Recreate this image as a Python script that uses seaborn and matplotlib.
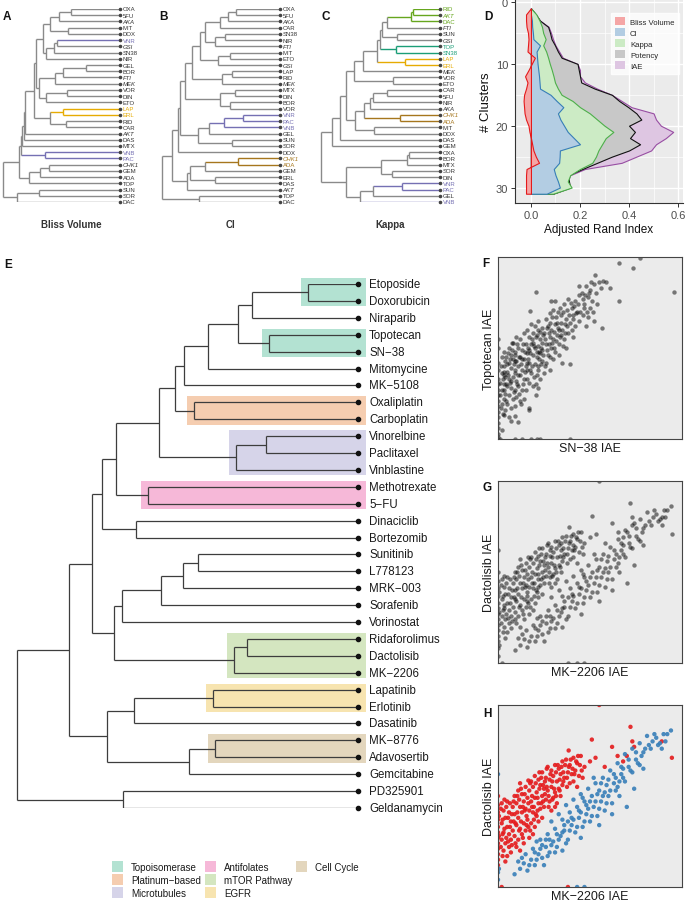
import numpy as np
import pandas as pd
import matplotlib
matplotlib.use("Agg")
import matplotlib.pyplot as plt
import seaborn as sns
from matplotlib.collections import LineCollection
from matplotlib.patches import Rectangle, Patch

# ---------------------------------------------------------------- data
# Dendrograms: (left, right, merge height)
A_n4 = ((("OXA", "5FU", 49), "AKA", 60.7), ("MIT", "DOX", 52.3), 70)
A_n7 = ((("VNR", "GSI", 62.7), "SN38", 66), "NIR", 74.3)
A_n11 = ((("GEL", "BOR", 34), "FTI", 57.3), "MEK", 65)
A_n13 = (("VOR", "DIN", 53.3), "ETO", 74.3)
A_n15 = ((A_n4, A_n7, 76.7), (A_n11, A_n13, 80.7), 84)
A_n18 = (("LAP", "ERL", 56.7), ("RID", "CAR", 54.3), 70)
A_n22 = ((((A_n15, A_n18, 85.7), "AKT", 95), "DAS", 96), "MTX", 98)
A_n27 = ((("CHK1", "GEM", 70.7), "ADA", 80), "TOP", 90.7)
A_n28 = ((A_n22, ("VNB", "PAC", 75), 99.5), A_n27, 100.7)
A_tree = (A_n28, (("SUN", "SOR", 81), "DAC", 102.7), 117.3)

B_b6 = (((("OXA", "5FU", 44), "AKA", 52), "CAR", 60), (("SN38", "NIR", 55), "FTI", 65), 75)
B_b9 = (B_b6, (("MIT", "ETO", 50), "GSI", 62), 80)
B_b12 = (B_b9, (("LAP", "RID", 48), "MEK", 58), 88)
B_b16 = (B_b12, (("MTX", "DIN", 45), ("BOR", "VOR", 50), 60), 95)
B_b21 = (((("VNR", "PAC", 37), "VNB", 56), "GEL", 71), ("SUN", "SOR", 48), 82)
B_b23 = ((B_b16, B_b21, 100), "DOX", 102)
B_b28 = (((("CHK1", "ADA", 42), "GEM", 75), ("ERL", "DAS", 65), 90), "AKT", 93)
B_tree = ((B_b23, B_b28, 108), ("TOP", "DAC", 81), 118)

C_c7 = ((((("RID", "AKT", 27), "DAC", 29), "FTI", 53), ("SUN", "GSI", 43), 58), ("TOP", "SN38", 44), 60)
C_c12 = ((((C_c7, ("LAP", "ERL", 35), 63), "MEK", 77)), ("VOR", "ETO", 47), 86)
C_c19 = ((((("CAR", "5FU", 53), "NIR", 67), "AKA", 70), ("CHK1", "ADA", 40), 76), ("MIT", "DOX", 66), 85)
C_c22 = ((((C_c12, C_c19, 94), "DAS", 100)), "GEM", 108)
C_c30 = (((("OXA", "BOR", 31), "MTX", 33), ("SOR", "DIN", 48), 59), ((("VNR", "PAC", 38), "GEL", 67), "VNB", 80), 94)
C_tree = (C_c22, C_c30, 119)

italic_codes = ["AKA", "GSI", "FTI", "MEK", "AKT", "CHK1"]
A_groups = {"VNR": "#7570B3", "VNB": "#7570B3", "PAC": "#7570B3", "LAP": "#E6AB02", "ERL": "#E6AB02"}
B_groups = {"VNR": "#7570B3", "VNB": "#7570B3", "PAC": "#7570B3", "CHK1": "#A6761D", "ADA": "#A6761D"}
C_groups = {"RID": "#66A61E", "AKT": "#66A61E", "DAC": "#66A61E", "TOP": "#1B9E77", "SN38": "#1B9E77",
            "LAP": "#E6AB02", "ERL": "#E6AB02", "CHK1": "#A6761D", "ADA": "#A6761D",
            "VNR": "#7570B3", "PAC": "#7570B3", "VNB": "#7570B3"}
tree_titles = ["Bliss Volume", "CI", "Kappa"]

# Panel E dendrogram
E_topo = ((("Etoposide", "Doxorubicin", 50), "Niraparib", 106), ("Topotecan", "SN-38", 89), 120)
E_t3 = (((E_topo, "Mitomycine", 150), "MK-5108", 174), ("Oxaliplatin", "Carboplatin", 164), 183)
E_mt = (("Vinorelbine", "Paclitaxel", 92), "Vinblastine", 122)
E_t6 = ((((E_t3, E_mt, 199), ("Methotrexate", "5-FU", 210), 242)), ("Dinaciclib", "Bortezomib", 222), 256)
E_kin = (((("Sunitinib", "L778123", 160), "MRK-003", 175), "Sorafenib", 197), "Vorinostat", 236)
E_mtor = (("Ridaforolimus", "Dactolisib", 111), "MK-2206", 124)
E_t9 = ((("Lapatinib", "Erlotinib", 145), "Dasatinib", 224), (("MK-8776", "Adavosertib", 143), "Gemcitabine", 169), 251)
E_tree = ((((E_t6, (E_kin, E_mtor, 244), 266)), E_t9, 289), ("PD325901", "Geldanamycin", 235), 341)

E_box_names = ["Topoisomerase", "Topoisomerase", "Platinum−based", "Microtubules", "Antifolates",
               "mTOR Pathway", "EGFR", "Cell Cycle"]
E_box_members = [["Etoposide", "Doxorubicin"], ["Topotecan", "SN-38"], ["Oxaliplatin", "Carboplatin"],
                 ["Vinorelbine", "Paclitaxel", "Vinblastine"], ["Methotrexate", "5-FU"],
                 ["Ridaforolimus", "Dactolisib", "MK-2206"], ["Lapatinib", "Erlotinib"],
                 ["MK-8776", "Adavosertib"]]
class_names = ["Topoisomerase", "Platinum−based", "Microtubules", "Antifolates", "mTOR Pathway", "EGFR", "Cell Cycle"]
class_colors = ["#b3e2d2", "#f5cdb0", "#d6d4e9", "#f6b8d8", "#d4e6c0", "#f7e4b0", "#e3d6bd"]

# Panel D: adjusted Rand index vs number of clusters
n_clusters = list(range(1, 32))
ari_bliss = [0.0, -0.02, -0.02, -0.018, -0.012, -0.01, -0.012, -0.014, 0.016, 0.003, -0.01, -0.024, -0.014,
             -0.02, -0.028, -0.03, -0.028, -0.026, -0.02, -0.01, -0.006, 0.0, 0.005, 0.01, 0.02, 0.033,
             -0.018, -0.02, -0.02, -0.02, -0.02]
ari_ci = [0.0, 0.0, 0.004, 0.005, 0.008, 0.01, 0.037, 0.023, 0.025, 0.027, 0.03, 0.033, 0.035, 0.037, 0.08,
          0.105, 0.132, 0.11, 0.12, 0.135, 0.15, 0.175, 0.2, 0.118, 0.117, 0.115, 0.093, 0.1, 0.11, 0.118, 0.064]
ari_kappa = [0.0, 0.022, 0.035, 0.045, 0.05, 0.06, 0.05, 0.062, 0.07, 0.077, 0.085, 0.092, 0.098, 0.11, 0.125,
             0.17, 0.2, 0.24, 0.27, 0.3, 0.336, 0.305, 0.29, 0.275, 0.265, 0.25, 0.2, 0.16, 0.15, 0.166, 0.09]
ari_potency = [0.0, 0.02, 0.037, 0.07, 0.078, 0.084, 0.098, 0.11, 0.125, 0.19, 0.195, 0.2, 0.205, 0.26, 0.33,
               0.36, 0.397, 0.43, 0.45, 0.4, 0.424, 0.404, 0.445, 0.4, 0.33, 0.27, 0.21, 0.152, 0.155, 0.16, 0.09]
ari_iae = [0.0, 0.02, 0.037, 0.072, 0.082, 0.09, 0.1, 0.115, 0.13, 0.19, 0.2, 0.2, 0.22, 0.27, 0.33, 0.37,
           0.41, 0.5, 0.51, 0.53, 0.58, 0.55, 0.51, 0.49, 0.43, 0.37, 0.22, 0.16, 0.15, 0.16, 0.09]
measure_names = ["Bliss Volume", "CI", "Kappa", "Potency", "IAE"]
measure_fill = ["#f5a6a6", "#b3cde3", "#ccebc5", "#c8c8c8", "#dec6e2"]
measure_edge = ["#E41A1C", "#377EB8", "#4DAF4A", "#111111", "#984EA3"]

# Panel F: SN-38 IAE (x) vs Topotecan IAE (y), scaled 0..1
F_points = [
    (0, .55), (0, .50), (0, .42), (0, .38), (0, .33), (0, .30), (0, .27), (0, .24), (0, .21), (0, .18), (0, .15),
    (0, .12), (0, .09), (0, .06), (0, .03), (0, .01),
    (.01, 0), (.09, 0), (.13, 0), (.18, 0), (.21, 0), (.23, 0), (.39, 0),
    (.77, .995), (.736, .94), (.655, .967), (.527, .90), (.958, .807), (.609, .83), (.655, .76), (.564, .61),
    (.209, .81), (.29, .756), (.31, .756), (.173, .706), (.39, .41), (.35, .42), (.209, .244), (.167, .17),
    (.17, .16), (.11, .095), (.06, .12), (.09, .125), (.07, .10), (.02, .05),
    (.50, .82), (.52, .85), (.48, .84), (.55, .86), (.57, .87), (.585, .865), (.53, .80), (.49, .78), (.46, .77),
    (.51, .76), (.47, .72), (.50, .72), (.515, .70), (.54, .74), (.49, .67), (.46, .68), (.52, .65), (.48, .62),
    (.36, .74), (.38, .77), (.40, .72), (.42, .76), (.44, .79), (.41, .68), (.43, .70), (.37, .66), (.39, .64),
    (.42, .62), (.35, .60), (.38, .58), (.44, .65), (.40, .60), (.36, .55), (.33, .52), (.41, .56), (.37, .50),
    (.34, .68), (.32, .64),
    (.26, .66), (.28, .69), (.30, .71), (.27, .62), (.29, .60), (.31, .63), (.33, .60), (.25, .58), (.28, .56),
    (.30, .55), (.32, .57), (.26, .52), (.29, .50), (.31, .48), (.27, .46), (.24, .49), (.30, .44), (.26, .42),
    (.33, .46), (.28, .38), (.25, .36),
    (.16, .60), (.18, .63), (.20, .62), (.22, .65), (.24, .61), (.17, .56), (.19, .58), (.21, .57), (.23, .55),
    (.15, .52), (.18, .52), (.20, .50), (.22, .51), (.24, .53), (.16, .47), (.19, .46), (.21, .45), (.23, .47),
    (.17, .42), (.20, .41), (.22, .40), (.24, .43), (.16, .38), (.18, .36), (.21, .35), (.23, .33), (.17, .31),
    (.19, .29), (.15, .27), (.22, .28),
    (.06, .50), (.08, .53), (.10, .56), (.12, .55), (.14, .58), (.07, .46), (.09, .48), (.11, .50), (.13, .49),
    (.06, .42), (.08, .44), (.10, .43), (.12, .45), (.14, .44), (.05, .37), (.07, .39), (.09, .38), (.11, .40),
    (.13, .38), (.06, .33), (.08, .34), (.10, .32), (.12, .35), (.14, .33), (.05, .29), (.07, .28), (.09, .27),
    (.11, .29), (.13, .27), (.06, .24), (.08, .22), (.10, .23), (.12, .21), (.05, .19), (.07, .17), (.14, .22),
    (.09, .18),
    (.02, .45), (.03, .40), (.02, .36), (.04, .34), (.03, .30), (.02, .27), (.04, .25), (.03, .22), (.02, .19),
    (.04, .16), (.03, .13), (.01, .31), (.01, .24), (.04, .43), (.03, .48),
    (.015, .40), (.025, .33), (.035, .27), (.045, .21), (.015, .17), (.025, .14), (.045, .30), (.055, .35),
    (.065, .44), (.075, .49), (.085, .41), (.095, .36), (.105, .30), (.115, .25), (.125, .19), (.135, .30),
    (.145, .37), (.155, .42), (.165, .50), (.175, .47), (.185, .40), (.195, .34), (.205, .30), (.215, .38),
    (.225, .44), (.235, .50), (.245, .57), (.255, .55), (.265, .49), (.275, .58), (.285, .64), (.295, .53),
    (.305, .59), (.315, .67), (.325, .61), (.335, .56), (.345, .64), (.355, .70), (.365, .63), (.375, .71),
    (.385, .68), (.395, .75), (.405, .66), (.415, .73), (.425, .69), (.435, .74), (.445, .70), (.455, .80),
    (.465, .74), (.475, .79), (.485, .70), (.495, .80), (.505, .86), (.44, .84), (.56, .83), (.075, .53),
    (.055, .47), (.035, .37), (.045, .45), (.065, .31), (.085, .26), (.095, .46), (.105, .52), (.115, .45),
    (.125, .41), (.135, .52), (.145, .48), (.155, .33), (.165, .44), (.175, .38), (.185, .55), (.195, .51),
    (.205, .56), (.215, .60), (.225, .48), (.235, .41), (.245, .46), (.255, .40), (.265, .61), (.275, .52),
    (.285, .45), (.295, .67), (.305, .50), (.315, .54), (.325, .70), (.335, .72), (.345, .57), (.355, .51),
    (.365, .58), (.375, .62), (.03, .35), (.05, .41), (.07, .32), (.09, .43), (.11, .35), (.13, .44), (.15, .40),
    (.17, .49), (.19, .53), (.21, .48), (.23, .59),
]

# Panels G/H: MK-2206 IAE (x) vs Dactolisib IAE (y), scaled 0..1, split into two response groups
G_upper = [
    (0, .50), (0, .45), (0, .41), (0, .37), (0, .33), (0, .30), (0, .27), (0, .24), (0, .21), (0, .18), (0, .15),
    (0, .12), (.005, .39), (.005, .28), (.02, 0), (.38, 0), (.55, 1.0),
    (.02, .46), (.03, .42), (.04, .38), (.02, .35), (.05, .33), (.03, .30), (.06, .29), (.02, .26), (.04, .24),
    (.06, .22), (.03, .20), (.05, .17), (.07, .19), (.04, .14), (.07, .36), (.06, .41), (.08, .44), (.05, .47),
    (.07, .26), (.08, .31),
    (.09, .50), (.11, .53), (.13, .51), (.15, .55), (.10, .46), (.12, .44), (.14, .47), (.16, .49), (.09, .40),
    (.11, .38), (.13, .41), (.15, .43), (.10, .34), (.12, .32), (.14, .35), (.16, .37), (.09, .28), (.11, .26),
    (.13, .29), (.15, .31), (.10, .22), (.12, .20), (.14, .24), (.165, .585), (.12, .57),
    (.18, .58), (.20, .61), (.22, .59), (.24, .63), (.26, .60), (.17, .53), (.19, .55), (.21, .52), (.23, .56),
    (.25, .54), (.18, .47), (.20, .49), (.22, .46), (.24, .50), (.26, .48), (.17, .42), (.19, .41), (.21, .39),
    (.23, .43), (.25, .44), (.18, .35), (.20, .33), (.22, .36), (.24, .38), (.19, .29), (.17, .27),
    (.27, .66), (.29, .64), (.31, .67), (.33, .65), (.35, .69), (.28, .59), (.30, .61), (.32, .58), (.34, .62),
    (.36, .60), (.27, .53), (.29, .55), (.31, .52), (.33, .54), (.35, .56), (.28, .47), (.30, .49), (.32, .46),
    (.34, .50), (.29, .42), (.31, .44),
    (.37, .70), (.39, .67), (.41, .71), (.43, .68), (.45, .72), (.38, .63), (.40, .62), (.42, .64), (.44, .61),
    (.39, .57), (.41, .58), (.43, .55), (.47, .66), (.384, .75), (.46, .60),
    (.51, .81), (.50, .69), (.53, .71), (.62, .77), (.65, .72), (.68, .69), (.72, .88), (.73, .80), (.74, .77),
    (.89, .80), (.945, .71), (.58, .66), (.70, .72),
    (.015, .43), (.025, .37), (.035, .32), (.045, .27), (.015, .22), (.025, .17), (.045, .44), (.055, .38),
    (.065, .33), (.075, .40), (.085, .47), (.095, .35), (.105, .41), (.115, .48), (.125, .36), (.135, .44),
    (.145, .51), (.155, .39), (.165, .46), (.175, .57), (.185, .50), (.195, .44), (.205, .57), (.215, .49),
    (.225, .54), (.235, .60), (.245, .47), (.255, .58), (.265, .65), (.275, .50), (.285, .62), (.295, .58),
    (.305, .54), (.315, .63), (.325, .67), (.335, .59), (.345, .66), (.355, .63), (.365, .67), (.375, .60),
    (.385, .66), (.395, .70), (.405, .65), (.415, .62), (.425, .69), (.435, .72), (.445, .67), (.455, .64),
    (.035, .48), (.055, .25), (.075, .23), (.095, .24), (.115, .31), (.135, .27), (.155, .34), (.175, .31),
    (.195, .37), (.215, .42), (.235, .46), (.255, .51), (.275, .44), (.295, .48), (.315, .50), (.335, .53),
    (.355, .58), (.375, .55), (.025, .29), (.065, .46), (.085, .36), (.105, .50), (.125, .54), (.145, .42),
    (.165, .33), (.185, .44), (.205, .40), (.225, .63), (.245, .56), (.265, .55),
]
G_lower = [
    (0, .62), (0, .08), (0, .04), (.005, .10), (.43, 0), (.47, 0), (.09, .07), (.12, .10), (.14, .13), (.16, .09),
    (.18, .15), (.20, .12), (.22, .18), (.19, .21), (.24, .16), (.26, .22), (.23, .26), (.28, .19), (.30, .25),
    (.27, .29), (.32, .22), (.34, .28), (.31, .32), (.29, .36), (.36, .31), (.38, .26), (.35, .37), (.33, .40),
    (.40, .34), (.42, .30), (.39, .41), (.37, .45), (.44, .38), (.46, .33), (.43, .44), (.41, .48), (.48, .40),
    (.50, .36), (.47, .47), (.45, .51), (.52, .44), (.54, .39), (.51, .50), (.49, .54), (.56, .47), (.58, .42),
    (.55, .53), (.53, .57), (.60, .50), (.62, .46), (.59, .56), (.57, .60), (.64, .53), (.66, .58), (.63, .62),
    (.61, .64), (.68, .60), (.70, .44), (.74, .54), (.67, .66), (.65, .68), (.72, .64), (.71, .70), (.69, .73),
    (.76, .68), (.75, .74), (.73, .76), (.78, .72), (.80, .76), (.77, .79), (.82, .78), (.84, .80), (.81, .83),
    (.86, .82), (.88, .79), (.90, .84), (.92, .84), (.94, .86), (.89, .76), (.79, .65), (.25, .12), (.35, .20),
    (.45, .27), (.55, .34), (.21, .25), (.15, .18), (.11, .14), (.38, .36), (.48, .45), (.58, .52), (.66, .50),
    (.52, .60), (.62, .40),
    (.13, .16), (.17, .12), (.21, .15), (.23, .21), (.27, .17), (.29, .23), (.31, .19), (.33, .26), (.35, .30),
    (.37, .24), (.39, .31), (.41, .37), (.43, .33), (.45, .41), (.47, .36), (.49, .43), (.51, .39), (.53, .47),
    (.55, .43), (.57, .50), (.59, .46), (.61, .53), (.63, .57), (.65, .55), (.67, .62), (.69, .58), (.71, .66),
    (.73, .63), (.75, .70), (.77, .67), (.79, .74), (.83, .76), (.85, .84), (.87, .78), (.91, .80), (.26, .26),
    (.32, .29), (.36, .34), (.40, .38), (.44, .42), (.46, .49), (.50, .47), (.54, .51), (.56, .57), (.60, .59),
    (.64, .60), (.68, .65), (.20, .19), (.24, .23), (.28, .26),
]
group_colors = {"upper": "#E41A1C", "lower": "#377EB8"}

# ---------------------------------------------------------------- figure
sns.set_theme(style="white")
plt.rcParams["font.family"] = ["Liberation Sans", "DejaVu Sans"]
W, H = 685, 903
fig = plt.figure(figsize=(W / 100, H / 100), dpi=100)


def add_ax(x0, y0, x1, y1):
    return fig.add_axes([x0 / W, 1 - y1 / H, (x1 - x0) / W, (y1 - y0) / H])


def tree_layout(tree, groups, neutral):
    leaves = []

    def collect(t):
        if isinstance(t, str):
            leaves.append(t)
        else:
            collect(t[0]); collect(t[1])
    collect(tree)
    pos = {n: i for i, n in enumerate(leaves)}
    segs, cols, nodes = [], [], []

    def gcol(s):
        c = {groups.get(x) for x in s}
        return c.pop() if len(c) == 1 and None not in c else neutral

    def rec(t):
        if isinstance(t, str):
            return float(pos[t]), 0.0, {t}
        yl, hl, sl = rec(t[0])
        yr, hr, sr = rec(t[1])
        h = t[2]
        for yc, hc, sc in ((yl, hl, sl), (yr, hr, sr)):
            segs.append([(h, yc), (hc, yc)]); cols.append(gcol(sc))
        allset = sl | sr
        segs.append([(h, yl), (h, yr)]); cols.append(gcol(allset))
        nodes.append((allset, h))
        return (yl + yr) / 2, h, allset
    rec(tree)
    return leaves, segs, cols, nodes


# overlay for free text
ov = fig.add_axes([0, 0, 1, 1], zorder=10)
ov.set_xlim(0, W); ov.set_ylim(H, 0); ov.axis("off")

# ---- panels A-C
tree_specs = [(A_tree, A_groups, 0), (B_tree, B_groups, 160), (C_tree, C_groups, 320)]
for (tree, groups, x0), title in zip(tree_specs, tree_titles):
    ax = add_ax(x0, 10, x0 + 120, 203)
    leaves, segs, cols, _ = tree_layout(tree, groups, "#8a8a8a")
    ax.add_collection(LineCollection(segs, colors=cols, linewidths=1.0, capstyle="butt"))
    ax.scatter(np.zeros(len(leaves)), np.arange(len(leaves)), s=2.5, color="#444444", zorder=3, clip_on=False)
    for i, lf in enumerate(leaves):
        ax.text(-2.5, i, lf, fontsize=4.3, va="center", ha="left", color=groups.get(lf, "#333333"),
                style="italic" if lf in italic_codes else "normal", clip_on=False)
    ax.set_xlim(120, 0); ax.set_ylim(31, 0); ax.axis("off")
    ov.text(x0 + 71 if x0 == 0 else x0 + 70, 225, title, fontsize=7, fontweight="bold",
            color="#333333", ha="center", va="center")

# ---- panel D
axD = add_ax(515, 0, 683, 204)
axD.set_facecolor("#EBEBEB")
ari_series = [ari_bliss, ari_ci, ari_kappa, ari_potency, ari_iae]
for idx in [4, 3, 2, 1, 0]:
    axD.fill_betweenx(n_clusters, 0, ari_series[idx], facecolor=measure_fill[idx],
                      edgecolor=measure_edge[idx], linewidth=0.8, zorder=2)
axD.set_xlim(-0.065, 0.62); axD.set_ylim(32.5, -0.5)
axD.set_xticks([0, 0.2, 0.4, 0.6]); axD.set_xticklabels(["0.0", "0.2", "0.4", "0.6"])
axD.set_xticks([0.1, 0.3, 0.5], minor=True)
axD.set_yticks([0, 10, 20, 30]); axD.set_yticks([5, 15, 25], minor=True)
axD.grid(True, which="major", color="white", linewidth=1.0)
axD.grid(True, which="minor", color="white", linewidth=0.5)
axD.set_axisbelow(True)
for s in ["top", "right"]:
    axD.spines[s].set_visible(False)
for s in ["left", "bottom"]:
    axD.spines[s].set_color("#333333"); axD.spines[s].set_linewidth(0.8)
axD.tick_params(which="major", bottom=True, left=True, length=3, width=0.7, color="#333333",
                labelsize=8, labelcolor="#4D4D4D", pad=2)
axD.tick_params(which="minor", length=0)
axD.set_xlabel("Adjusted Rand Index", fontsize=8.5, labelpad=2, color="#111111")
axD.set_ylabel("# Clusters", fontsize=9.5, labelpad=3, color="#111111")
handles = [Patch(facecolor=f, edgecolor="none", label=n) for n, f in zip(measure_names, measure_fill)]
leg = axD.legend(handles=handles, loc="upper left", bbox_to_anchor=((607 - 515) / 168, 1 - 10 / 204),
                 fontsize=5.6, frameon=True, fancybox=False, handlelength=1.2, handleheight=1.2,
                 handletextpad=0.7, borderpad=0.55, labelspacing=0.3)
leg.get_frame().set_facecolor("white"); leg.get_frame().set_edgecolor("white")

# ---- panel E
axE = add_ax(0, 285, 358, 809)
leaves, segs, cols, nodes = tree_layout(E_tree, {}, "#3d3d3d")
pos = {n: i for i, n in enumerate(leaves)}
cmap = dict(zip(class_names, class_colors))
for name, members in zip(E_box_names, E_box_members):
    mset = set(members)
    h = min(hh for s, hh in nodes if mset <= s)
    ys = [pos[m] for m in members]
    axE.add_patch(Rectangle((h + 7, min(ys) - 0.36), -(h + 7 + 8), max(ys) - min(ys) + 0.68,
                            facecolor=cmap[name], edgecolor="none", zorder=0, clip_on=False))
axE.add_collection(LineCollection(segs, colors=cols, linewidths=0.9, zorder=2))
axE.scatter(np.zeros(len(leaves)), np.arange(len(leaves)), s=9, color="#111111", zorder=3, clip_on=False)
for i, lf in enumerate(leaves):
    axE.text(-11, i, lf.replace("-", "−"), fontsize=8.3, va="center", ha="left", color="#1a1a1a", clip_on=False)
axE.set_xlim(358, 0); axE.set_ylim(31, 0); axE.axis("off")

# legend for E
for i, (name, col) in enumerate(zip(class_names, class_colors)):
    cx = [112, 205, 296][i // 3]
    cy = 868 + 13 * (i % 3)
    ov.add_patch(Rectangle((cx, cy - 5.5), 11, 11, facecolor=col, edgecolor="none"))
    ov.text(cx + 19, cy, name, fontsize=7, va="center", ha="left", color="#1a1a1a")

# ---- scatter panels
def scatter_panel(y0, df, xlab, ylab, hue=None):
    ax = add_ax(498, y0, 682, y0 + 182)
    ax.set_facecolor("#EBEBEB")
    if hue is None:
        sns.scatterplot(data=df, x="x", y="y", color="black", alpha=0.5, s=10, linewidth=0, ax=ax)
    else:
        sns.scatterplot(data=df, x="x", y="y", hue=hue, palette=group_colors, alpha=0.9, s=10,
                        linewidth=0, ax=ax, legend=False)
    ax.set_xlim(0, 1); ax.set_ylim(0, 1)
    ax.set_xticks([]); ax.set_yticks([])
    for s in ax.spines.values():
        s.set_color("#444444"); s.set_linewidth(0.8); s.set_visible(True)
    ax.set_xlabel(xlab, fontsize=9, labelpad=2, color="#1a1a1a")
    ax.set_ylabel(ylab, fontsize=9, labelpad=2, color="#1a1a1a")
    return ax

dfF = pd.DataFrame(F_points, columns=["x", "y"])
scatter_panel(258, dfF, "SN−38 IAE", "Topotecan IAE")
dfG = pd.DataFrame(G_upper + G_lower, columns=["x", "y"])
dfG["group"] = ["upper"] * len(G_upper) + ["lower"] * len(G_lower)
scatter_panel(482, dfG, "MK−2206 IAE", "Dactolisib IAE")
scatter_panel(706, dfG, "MK−2206 IAE", "Dactolisib IAE", hue="group")

# panel letters
for lab, x, y in [("A", 3, 17), ("B", 159, 17), ("C", 322, 17), ("D", 484, 17), ("E", 4, 265),
                  ("F", 482, 264), ("G", 483, 488), ("H", 483, 714)]:
    ov.text(x, y, lab, fontsize=8.5, fontweight="bold", va="center", ha="left", color="#111111")

fig.savefig("out.png", dpi=100)
